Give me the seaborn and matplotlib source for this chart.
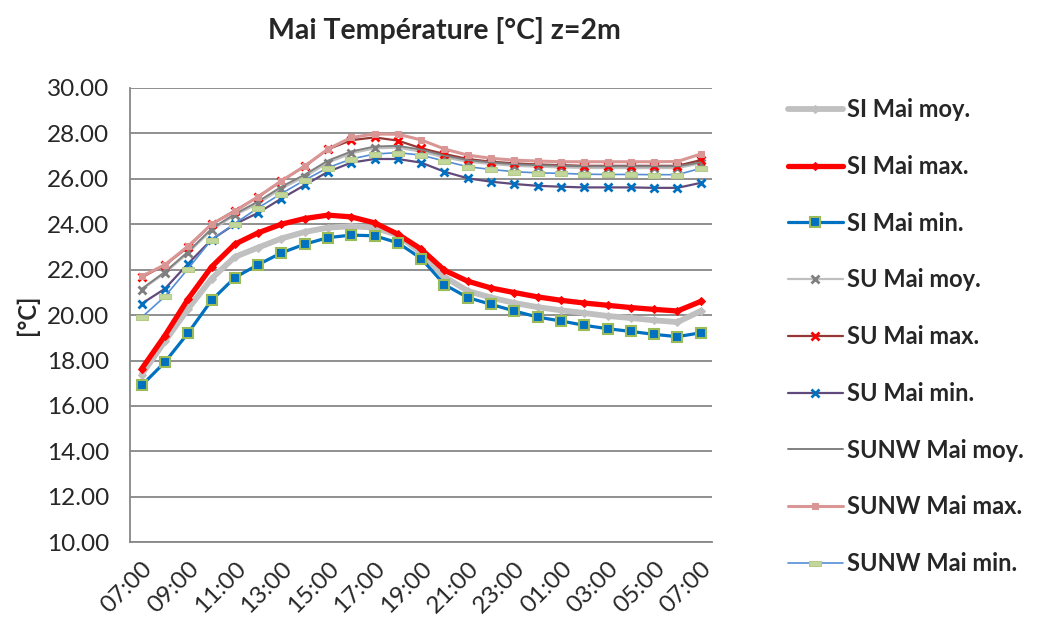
import matplotlib
matplotlib.use("Agg")
import matplotlib.pyplot as plt
import seaborn as sns
import numpy as np

# hourly labels 07:00 -> 07:00 next day
hours = ['07:00', '08:00', '09:00', '10:00', '11:00', '12:00', '13:00', '14:00',
         '15:00', '16:00', '17:00', '18:00', '19:00', '20:00', '21:00', '22:00',
         '23:00', '00:00', '01:00', '02:00', '03:00', '04:00', '05:00', '06:00', '07:00']

si_moy = [17.38, 18.85, 20.28, 21.60, 22.56, 22.97, 23.37, 23.66, 23.85, 23.91, 23.85, 23.52,
          22.74, 21.68, 21.06, 20.77, 20.53, 20.35, 20.21, 20.09, 19.96, 19.87, 19.77, 19.69, 20.18]
si_max = [17.63, 19.10, 20.72, 22.12, 23.12, 23.62, 24.00, 24.25, 24.40, 24.32, 24.06, 23.56,
          22.90, 21.97, 21.49, 21.19, 20.99, 20.80, 20.65, 20.53, 20.43, 20.33, 20.25, 20.18, 20.60]
si_min = [16.90, 17.93, 19.22, 20.65, 21.65, 22.22, 22.74, 23.12, 23.41, 23.52, 23.49, 23.18,
          22.49, 21.34, 20.77, 20.47, 20.18, 19.91, 19.74, 19.55, 19.40, 19.28, 19.15, 19.05, 19.22]

su_moy = [21.12, 21.85, 22.74, 23.74, 24.40, 24.91, 25.57, 26.09, 26.71, 27.12, 27.34, 27.37,
          27.19, 26.94, 26.75, 26.65, 26.57, 26.53, 26.50, 26.48, 26.47, 26.47, 26.47, 26.47, 26.68]
su_max = [21.66, 22.20, 23.00, 24.00, 24.60, 25.20, 25.90, 26.55, 27.30, 27.70, 27.82, 27.68,
          27.34, 27.09, 26.87, 26.75, 26.68, 26.63, 26.60, 26.57, 26.57, 26.57, 26.57, 26.57, 26.82]
su_min = [20.50, 21.16, 22.27, 23.32, 24.00, 24.50, 25.13, 25.72, 26.31, 26.71, 26.87, 26.87,
          26.71, 26.31, 26.02, 25.87, 25.77, 25.69, 25.65, 25.62, 25.62, 25.62, 25.60, 25.60, 25.82]

sunw_moy = [21.15, 21.90, 22.80, 23.80, 24.45, 25.00, 25.65, 26.18, 26.80, 27.20, 27.42, 27.45,
            27.28, 27.02, 26.82, 26.72, 26.64, 26.60, 26.57, 26.55, 26.55, 26.55, 26.55, 26.55, 26.72]
sunw_max = [21.70, 22.22, 23.04, 24.00, 24.57, 25.21, 25.91, 26.56, 27.31, 27.82, 27.97, 27.96,
            27.71, 27.31, 27.04, 26.90, 26.82, 26.78, 26.75, 26.75, 26.75, 26.75, 26.75, 26.76, 27.09]
sunw_min = [19.90, 20.82, 22.05, 23.32, 24.03, 24.72, 25.35, 25.94, 26.49, 26.87, 27.09, 27.15,
            27.04, 26.78, 26.53, 26.41, 26.31, 26.26, 26.24, 26.20, 26.19, 26.19, 26.18, 26.18, 26.46]

x = np.arange(len(hours))

sns.set_style("white")
plt.rcParams['font.family'] = ['Lato', 'DejaVu Sans']

fig = plt.figure(figsize=(10.4, 6.19), dpi=100)
ax = fig.add_axes([0.125, 0.124, 0.560, 0.734])

# flat rectangle marker shape (like the Excel dash marker)
rect = [(-1, -0.45), (1, -0.45), (1, 0.45), (-1, 0.45), (-1, -0.45)]

series = [
    ("SI Mai moy.", si_moy, dict(color='#C0C0C0', lw=4.2, marker='D', ms=4, mfc='#C0C0C0', mec='#C0C0C0')),
    ("SI Mai max.", si_max, dict(color='#FF0000', lw=3.8, marker='D', ms=4, mfc='#FF0000', mec='#FF0000')),
    ("SI Mai min.", si_min, dict(color='#0070C0', lw=2.3, marker='s', ms=7, mfc='#0070C0', mec='#9BBB59', mew=1.5)),
    ("SU Mai moy.", su_moy, dict(color='#BFBFBF', lw=1.6, marker='x', ms=6, mec='#7F7F7F', mew=2)),
    ("SU Mai max.", su_max, dict(color='#953735', lw=1.6, marker='x', ms=6, mec='#FF0000', mew=2)),
    ("SU Mai min.", su_min, dict(color='#604A7B', lw=1.6, marker='x', ms=6, mec='#0070C0', mew=2)),
    ("SUNW Mai moy.", sunw_moy, dict(color='#808080', lw=1.4)),
    ("SUNW Mai max.", sunw_max, dict(color='#D99694', lw=2.2, marker='s', ms=5, mfc='#D99694', mec='#D99694')),
    ("SUNW Mai min.", sunw_min, dict(color='#558ED5', lw=1.2, marker=rect, ms=8, mfc='#C3D69B', mec='#B5CB88')),
]

for name, vals, style in series:
    sns.lineplot(x=x, y=vals, ax=ax, label=name, **style)

ax.set_xlim(-0.5, len(hours) - 0.5)
ax.set_ylim(10, 30)
ax.set_yticks(np.arange(10, 30.01, 2))
ax.set_yticklabels([f"{v:.2f}" for v in np.arange(10, 30.01, 2)], fontsize=17.5)
ax.set_xticks(x[::2])
ax.set_xticklabels(hours[::2], rotation=45, ha='right', rotation_mode='anchor', fontsize=17.5)
ax.tick_params(axis='y', length=0, pad=15)
ax.tick_params(axis='x', length=0, pad=11)

ax.grid(axis='y', color='#878787', lw=1.3)
ax.set_axisbelow(True)
for side in ['top', 'right']:
    ax.spines[side].set_visible(False)
for side in ['left', 'bottom']:
    ax.spines[side].set_color('#878787')
    ax.spines[side].set_linewidth(1.3)

ax.set_xlabel("")
ax.set_ylabel("[°C]", fontsize=17, fontweight='bold', labelpad=6)
fig.suptitle("Mai Température [°C] z=2m", x=0.427, y=0.972, fontsize=20.5, fontweight='bold')

handles, labels = ax.get_legend_handles_labels()
ax.get_legend().remove()
fig.legend(handles, labels, loc='upper left', bbox_to_anchor=(0.737, 0.876),
           frameon=False, prop={'size': 17, 'weight': 'bold'},
           handlelength=2.33, handletextpad=0.2, labelspacing=1.43)

fig.savefig("out.png", dpi=100)
